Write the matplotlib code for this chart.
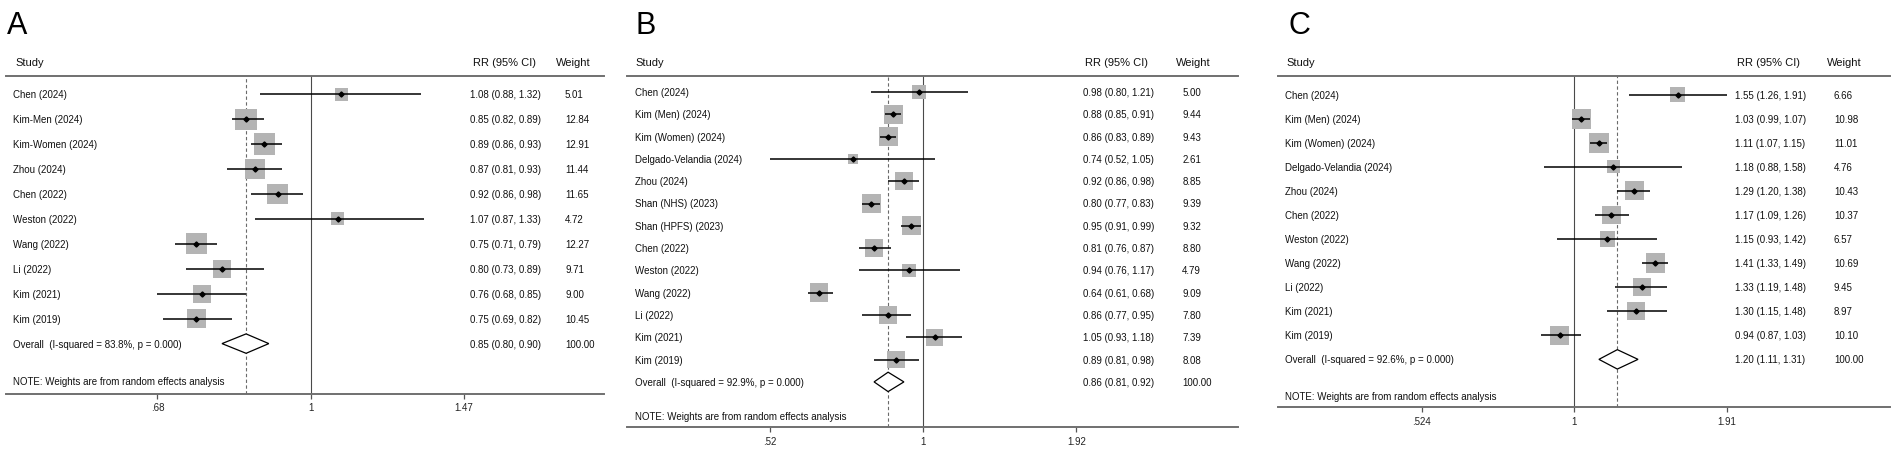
import numpy as np
import matplotlib
matplotlib.use("Agg")
import matplotlib.pyplot as plt
import matplotlib.transforms as mtransforms
from matplotlib.patches import Polygon
from matplotlib.ticker import NullLocator

plt.rcParams['font.family'] = ['Liberation Sans', 'DejaVu Sans']

# ---------------- data ----------------
a_studies = ["Chen (2024)", "Kim-Men (2024)", "Kim-Women (2024)", "Zhou (2024)", "Chen (2022)",
             "Weston (2022)", "Wang (2022)", "Li (2022)", "Kim (2021)", "Kim (2019)"]
a_rr = [1.08, 0.85, 0.89, 0.87, 0.92, 1.07, 0.75, 0.80, 0.76, 0.75]
a_lo = [0.88, 0.82, 0.86, 0.81, 0.86, 0.87, 0.71, 0.73, 0.68, 0.69]
a_hi = [1.32, 0.89, 0.93, 0.93, 0.98, 1.33, 0.79, 0.89, 0.85, 0.82]
a_w = [5.01, 12.84, 12.91, 11.44, 11.65, 4.72, 12.27, 9.71, 9.00, 10.45]
a_overall = [0.85, 0.80, 0.90]
a_i2 = 83.8
a_ticks = [0.68, 1.0, 1.47]
a_ticklabels = [".68", "1", "1.47"]

b_studies = ["Chen (2024)", "Kim (Men) (2024)", "Kim (Women) (2024)", "Delgado-Velandia (2024)",
             "Zhou (2024)", "Shan (NHS) (2023)", "Shan (HPFS) (2023)", "Chen (2022)",
             "Weston (2022)", "Wang (2022)", "Li (2022)", "Kim (2021)", "Kim (2019)"]
b_rr = [0.98, 0.88, 0.86, 0.74, 0.92, 0.80, 0.95, 0.81, 0.94, 0.64, 0.86, 1.05, 0.89]
b_lo = [0.80, 0.85, 0.83, 0.52, 0.86, 0.77, 0.91, 0.76, 0.76, 0.61, 0.77, 0.93, 0.81]
b_hi = [1.21, 0.91, 0.89, 1.05, 0.98, 0.83, 0.99, 0.87, 1.17, 0.68, 0.95, 1.18, 0.98]
b_w = [5.00, 9.44, 9.43, 2.61, 8.85, 9.39, 9.32, 8.80, 4.79, 9.09, 7.80, 7.39, 8.08]
b_overall = [0.86, 0.81, 0.92]
b_i2 = 92.9
b_ticks = [0.52, 1.0, 1.92]
b_ticklabels = [".52", "1", "1.92"]

c_studies = ["Chen (2024)", "Kim (Men) (2024)", "Kim (Women) (2024)", "Delgado-Velandia (2024)",
             "Zhou (2024)", "Chen (2022)", "Weston (2022)", "Wang (2022)", "Li (2022)",
             "Kim (2021)", "Kim (2019)"]
c_rr = [1.55, 1.03, 1.11, 1.18, 1.29, 1.17, 1.15, 1.41, 1.33, 1.30, 0.94]
c_lo = [1.26, 0.99, 1.07, 0.88, 1.20, 1.09, 0.93, 1.33, 1.19, 1.15, 0.87]
c_hi = [1.91, 1.07, 1.15, 1.58, 1.38, 1.26, 1.42, 1.49, 1.48, 1.48, 1.03]
c_w = [6.66, 10.98, 11.01, 4.76, 10.43, 10.37, 6.57, 10.69, 9.45, 8.97, 10.10]
c_overall = [1.20, 1.11, 1.31]
c_i2 = 92.6
c_ticks = [0.524, 1.0, 1.91]
c_ticklabels = [".524", "1", "1.91"]

panel_letters = ["A", "B", "C"]
note_text = "NOTE: Weights are from random effects analysis"

# ---------------- layout (pixels) ----------------
W, H, DPI = 1899, 456, 100
layouts = [
    dict(L=6, R=604, T=77, B=394.5, tlo=157.4, thi=463.8, y0=95.3, dy=24.93, note=382,
         xlab=13, xstudy=15, xrr=470.5, xrrh=473, xw=565, xwh=556, xletter=7, k=5.95),
    dict(L=627, R=1238, T=77, B=428.3, tlo=770.2, thi=1076.3, y0=93.0, dy=22.3, note=417,
         xlab=634.7, xstudy=635, xrr=1083.3, xrrh=1085, xw=1182.3, xwh=1176, xletter=636, k=6.2),
    dict(L=1278, R=1890, T=77, B=408.3, tlo=1421.8, thi=1727, y0=95.7, dy=24.06, note=396.7,
         xlab=1285, xstudy=1286.5, xrr=1734.7, xrrh=1736.8, xw=1834, xwh=1827, xletter=1288.5, k=5.9),
]
panels = [
    (a_studies, a_rr, a_lo, a_hi, a_w, a_overall, a_i2, a_ticks, a_ticklabels),
    (b_studies, b_rr, b_lo, b_hi, b_w, b_overall, b_i2, b_ticks, b_ticklabels),
    (c_studies, c_rr, c_lo, c_hi, c_w, c_overall, c_i2, c_ticks, c_ticklabels),
]

fig = plt.figure(figsize=(W / DPI, H / DPI), dpi=DPI)
fig.patch.set_facecolor("white")

def fx(px):
    return px / W

def fy(py):
    return 1 - py / H

TXT = "#111111"
LINE_GRAY = "#707070"

for letter, lay, (studies, rr, lo, hi, w, ov, i2, ticks, ticklabels) in zip(panel_letters, layouts, panels):
    ax = fig.add_axes([fx(lay["L"]), fy(lay["B"]), (lay["R"] - lay["L"]) / W, (lay["B"] - lay["T"]) / H])
    ax.set_facecolor("none")
    ax.set_xscale("log")
    # x limits from the tick pixel positions
    lnlo, lnhi = np.log(ticks[0]), np.log(ticks[-1])
    sc = (lnhi - lnlo) / (lay["thi"] - lay["tlo"])
    ax.set_xlim(np.exp(lnlo - (lay["tlo"] - lay["L"]) * sc), np.exp(lnhi + (lay["R"] - lay["thi"]) * sc))
    y0, dy = lay["y0"], lay["dy"]
    ax.set_ylim((lay["B"] - y0) / dy, (lay["T"] - y0) / dy)

    n = len(studies)
    ys = np.arange(n)
    yo = n

    # reference lines
    ax.axvline(1.0, color="#4a4a4a", lw=0.8, zorder=1)
    ax.axvline(ov[0], color="#6a6a6a", lw=0.8, ls=(0, (3, 2.2)), zorder=1)

    # squares (area ~ weight)
    side_pt = lay["k"] * np.sqrt(np.array(w)) * 72 / DPI
    ax.scatter(rr, ys, s=side_pt ** 2, marker="s", color="#b4b4b4", linewidths=0, zorder=2)
    ax.hlines(ys, lo, hi, color="black", lw=1.1, zorder=3)
    ax.plot(rr, ys, "D", ms=2.6, color="black", zorder=4)

    # overall diamond
    h = 9.7 / dy
    diamond = Polygon([(ov[1], yo), (ov[0], yo - h), (ov[2], yo), (ov[0], yo + h)],
                      closed=True, facecolor="white", edgecolor="black", lw=0.9, zorder=3)
    ax.add_patch(diamond)

    # axes styling
    for s in ("left", "right"):
        ax.spines[s].set_visible(False)
    for s in ("top", "bottom"):
        ax.spines[s].set_color(LINE_GRAY)
        ax.spines[s].set_linewidth(1.4)
    ax.set_yticks([])
    ax.set_xticks(ticks)
    ax.set_xticklabels(ticklabels)
    ax.xaxis.set_minor_locator(NullLocator())
    ax.tick_params(axis="x", length=3.6, width=0.9, color="#555555", pad=2.5,
                   labelsize=7, labelcolor="#222222")

    trans = mtransforms.blended_transform_factory(fig.transFigure, ax.transData)

    # headers
    yh = (62.7 - y0) / dy
    ax.text(fx(lay["xstudy"]), yh, "Study", transform=trans, fontsize=8, va="center", ha="left",
            color=TXT, clip_on=False)
    ax.text(fx(lay["xrrh"]), yh, "RR (95% CI)", transform=trans, fontsize=8, va="center", ha="left",
            color=TXT, clip_on=False)
    ax.text(fx(lay["xwh"]), yh, "Weight", transform=trans, fontsize=8, va="center", ha="left",
            color=TXT, clip_on=False)

    # rows
    for i in range(n):
        ax.text(fx(lay["xlab"]), i, studies[i], transform=trans, fontsize=7, va="center", ha="left",
                color=TXT, clip_on=False)
        ax.text(fx(lay["xrr"]), i, f"{rr[i]:.2f} ({lo[i]:.2f}, {hi[i]:.2f})", transform=trans,
                fontsize=7, va="center", ha="left", color=TXT, clip_on=False)
        ax.text(fx(lay["xw"]), i, f"{w[i]:.2f}", transform=trans, fontsize=7, va="center", ha="left",
                color=TXT, clip_on=False)

    ax.text(fx(lay["xlab"]), yo, f"Overall  (I-squared = {i2:.1f}%, p = 0.000)", transform=trans,
            fontsize=7, va="center", ha="left", color=TXT, clip_on=False)
    ax.text(fx(lay["xrr"]), yo, f"{ov[0]:.2f} ({ov[1]:.2f}, {ov[2]:.2f})", transform=trans,
            fontsize=7, va="center", ha="left", color=TXT, clip_on=False)
    ax.text(fx(lay["xw"]), yo, f"{100:.2f}", transform=trans, fontsize=7, va="center", ha="left",
            color=TXT, clip_on=False)

    ax.text(fx(lay["xlab"]), (lay["note"] - y0) / dy, note_text, transform=trans, fontsize=7,
            va="center", ha="left", color=TXT, clip_on=False)

    # panel letter
    fig.text(fx(lay["xletter"]), fy(34.3), letter, fontsize=22, va="baseline", ha="left", color="black")

fig.savefig("out.png", dpi=DPI, facecolor="white")
